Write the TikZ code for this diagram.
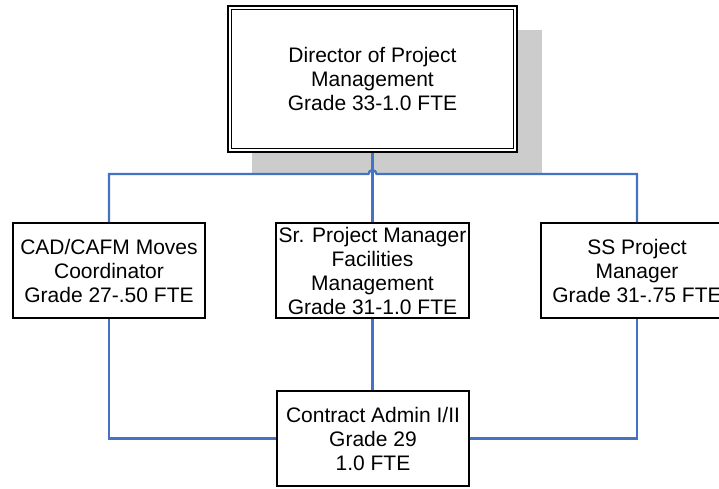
\documentclass[tikz,border=0pt]{standalone}
\usepackage{fontspec}
\setmainfont{Liberation Sans}
\usepackage{xcolor}
\usepackage{tikz}
\usetikzlibrary{calc}

\definecolor{linkblue}{HTML}{4472C4}
\definecolor{shadowgray}{HTML}{CCCCCC}

\begin{document}
\begin{tikzpicture}[
  x=1pt, y=1pt,
  post/.style={draw=black, line width=2pt, fill=white, align=center, inner sep=0pt,
    minimum width=192pt, minimum height=95pt, font=\fontsize{21}{24}\selectfont},
  link/.style={draw=linkblue, line width=2.2pt},
]
\useasboundingbox (0,0) rectangle (719,488);

% Shadow
\fill[shadowgray] (252,315) rectangle (542,458);

% Director
\node[post, line width=2.6pt, minimum width=289pt, minimum height=146pt] (director) at (372.5,409)
  {Director of Project\\Management\\Grade 33-1.0 FTE};
\draw[line width=1.2pt] ($(director.north west)+(5,-5)$) rectangle ($(director.south east)+(-5,5)$);

% Second row
\node[post] (cad) at (109,217.5) {CAD/CAFM Moves\\Coordinator\\Grade 27-.50 FTE};
\node[post, minimum width=193pt] (srpm) at (372.5,217.5)
  {Sr. Project Manager\\Facilities\\Management\\Grade 31-1.0 FTE};
\node[post] (sspm) at (637,217.5) {SS Project\\Manager\\Grade 31-.75 FTE};

% Bottom
\node[post] (admin) at (373,49.5) {Contract Admin I/II\\Grade 29\\1.0 FTE};

% Top connectors
\draw[link] (director.south) -- (srpm.north);
\draw[link] (cad.north) -- (cad.north |- 0,314)
  -- ($(srpm.north |- 0,314)+(-4,0)$) arc[start angle=180, end angle=0, radius=4]
  -- (sspm.north |- 0,314) -- (sspm.north);

% Bottom connectors
\draw[link] (srpm.south) -- (srpm.south |- admin.north);
\draw[link] (cad.south) -- (cad.south |- admin.west) -- (admin.west);
\draw[link] (admin.east) -- (admin.east -| sspm.south) -- (sspm.south);
\end{tikzpicture}
\end{document}
